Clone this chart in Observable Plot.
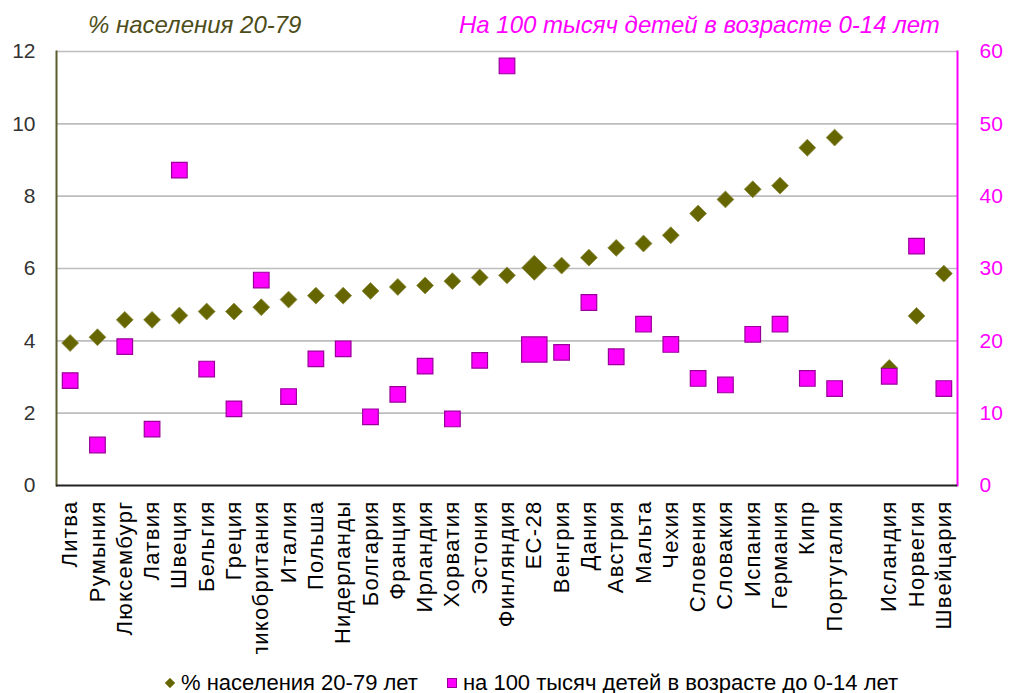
<!DOCTYPE html>
<html>
<head>
<meta charset="utf-8">
<script src="https://cdn.jsdelivr.net/npm/d3@7"></script>
<script src="https://cdn.jsdelivr.net/npm/@observablehq/plot@0.6"></script>
<style>
  body { margin: 0; background: #fff; font-family: "Liberation Sans", Arial, sans-serif; }
  #wrap { width: 1010px; }
  #titles { position: relative; height: 40px; }
  #titles span { position: absolute; top: 11px; font-style: italic; font-size: 24px; line-height: 28px; white-space: nowrap; }
  #tl { left: 88px; color: #4d4d1a; }
  #tr { left: 459px; color: #ff00ff; }
  #chart svg { display: block; overflow: hidden; }
  #chart g[aria-label="x-axis tick label"] text { letter-spacing: 1.3px; }
  #legend { display: flex; justify-content: flex-start; align-items: center; padding-left: 164px; margin-top: 16px; font-size: 22px; color: #000; }
  #legend .item { display: flex; align-items: center; margin-right: 28px; }
  #legend svg { margin-right: 5px; }
</style>
</head>
<body>
<div id="wrap">
  <div id="titles"><span id="tl">% населения 20-79</span><span id="tr">На 100 тысяч детей в возрасте 0-14 лет</span></div>
  <div id="chart"></div>
  <div id="legend"></div>
</div>
<script>
const categories = ["Литва","Румыния","Люксембург","Латвия","Швеция","Бельгия","Греция","Великобритания","Италия","Польша","Нидерланды","Болгария","Франция","Ирландия","Хорватия","Эстония","Финляндия","ЕС-28","Венгрия","Дания","Австрия","Мальта","Чехия","Словения","Словакия","Испания","Германия","Кипр","Португалия","","Исландия","Норвегия","Швейцария"];
const pctPopulation = [3.94,4.10,4.58,4.58,4.70,4.81,4.81,4.93,5.14,5.25,5.25,5.38,5.49,5.53,5.65,5.75,5.81,6.02,6.08,6.30,6.57,6.69,6.92,7.52,7.91,8.19,8.29,9.34,9.62,null,3.25,4.69,5.86];
const per100kChildren = [14.5,5.6,19.2,7.8,43.6,16.1,10.6,28.4,12.3,17.5,18.9,9.5,12.6,16.5,9.2,17.3,58.0,18.8,18.4,25.3,17.8,22.3,19.5,14.8,13.9,20.9,22.3,14.8,13.4,null,15.1,33.1,13.4];
const leftTicks = [0,2,4,6,8,10,12];
const highlight = "ЕС-28";
const series1Name = "% населения 20-79 лет";
const series2Name = "на 100 тысяч детей в возрасте до 0-14 лет";

const OLIVE = "#666600";
const MAGENTA = "#ff00ff";
const RATIO = 5; // right axis (0-60) vs left axis (0-12)

const rows1 = categories.map((c, i) => ({c, v: pctPopulation[i]})).filter(d => d.c !== "" && d.v != null);
const rows2 = categories.map((c, i) => ({c, v: per100kChildren[i]})).filter(d => d.c !== "" && d.v != null);

const plot = Plot.plot({
  width: 1010,
  height: 614,
  marginTop: 11,
  marginLeft: 56,
  marginRight: 53,
  marginBottom: 169,
  style: {fontFamily: "'Liberation Sans', Arial, sans-serif", background: "#fff"},
  x: {type: "band", domain: categories, padding: 0, round: false, label: null},
  y: {domain: [0, 12], label: null},
  r: {type: "identity"},
  marks: [
    Plot.gridY(leftTicks.filter(t => t > 0), {stroke: "#bdbdbd", strokeOpacity: 1, strokeWidth: 1.6}),
    Plot.frame({anchor: "left", stroke: "#5c5c2e", strokeWidth: 2}),
    Plot.frame({anchor: "right", stroke: MAGENTA, strokeWidth: 2}),
    Plot.ruleY([0], {stroke: "#222", strokeWidth: 2}),
    Plot.axisY({anchor: "left", ticks: leftTicks, tickSize: 0, tickPadding: 21, fontSize: 21, fill: "#333", label: null}),
    Plot.axisY({anchor: "right", ticks: leftTicks, tickSize: 0, tickPadding: 22, fontSize: 21, fill: MAGENTA, tickFormat: d => d * RATIO, label: null}),
    Plot.axisX({tickRotate: -90, tickSize: 0, tickPadding: 15, fontSize: 22, fill: "#000", label: null}),
    Plot.dot(rows1, {x: "c", y: "v", symbol: "diamond2", r: d => d.c === highlight ? 11.3 : 7.6, fill: OLIVE, stroke: "#8a8a40", strokeWidth: 0.8}),
    Plot.dot(rows2, {x: "c", y: d => d.v / RATIO, symbol: "square", r: d => d.c === highlight ? 14.3 : 8.8, fill: MAGENTA, stroke: "#990099", strokeWidth: 1.2})
  ]
});
document.getElementById("chart").appendChild(plot);

const legend = d3.select("#legend");
const i1 = legend.append("div").attr("class", "item");
i1.append("svg").attr("width", 12).attr("height", 12)
  .append("path").attr("d", "M6,1L11,6L6,11L1,6Z").attr("fill", OLIVE).attr("stroke", "#8a8a40").attr("stroke-width", 0.6);
i1.append("span").text(series1Name);
const i2 = legend.append("div").attr("class", "item");
i2.append("svg").attr("width", 12).attr("height", 12)
  .append("rect").attr("x", 1.5).attr("y", 1.5).attr("width", 9).attr("height", 9).attr("fill", MAGENTA).attr("stroke", "#990099").attr("stroke-width", 1);
i2.append("span").text(series2Name);
</script>
</body>
</html>
